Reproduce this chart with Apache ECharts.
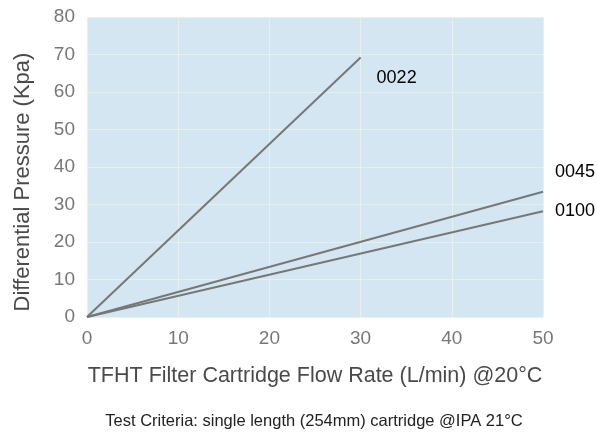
<!DOCTYPE html>
<html><head><meta charset="utf-8">
<script src="https://cdn.jsdelivr.net/npm/echarts@6/dist/echarts.min.js"></script>
<style>html,body{margin:0;padding:0;background:#fff}#c{width:597px;height:436px}</style>
</head><body><div id="c"></div>
<script>
const seriesNames = ['0022', '0045', '0100'];
const flow0022 = [[0, 0], [30, 69.2]];
const flow0045 = [[0, 0], [50, 33.4]];
const flow0100 = [[0, 0], [50, 28.2]];
const xTicks = [0, 10, 20, 30, 40, 50];
const yTicks = [0, 10, 20, 30, 40, 50, 60, 70, 80];
const xTitle = 'TFHT Filter Cartridge Flow Rate (L/min) @20°C';
const yTitle = 'Differential Pressure (Kpa)';
const footnote = 'Test Criteria: single length (254mm) cartridge @IPA 21°C';

const chart = echarts.init(document.getElementById('c'));
const font = 'Liberation Sans, Helvetica, Arial, sans-serif';
const labelOffsets = [[8, 21], [4, -20], [4, 0]];
const datas = [flow0022, flow0045, flow0100];
chart.setOption({
  animation: false,
  grid: {left: 87, top: 17, width: 456, height: 300, show: true, backgroundColor: '#d4e6f1', borderWidth: 0},
  xAxis: {
    type: 'value', min: xTicks[0], max: xTicks[xTicks.length - 1], interval: 10,
    axisLine: {show: false}, axisTick: {show: false},
    splitLine: {show: true, lineStyle: {color: '#e6f1ea', width: 1}},
    axisLabel: {color: '#777', fontSize: 19, fontFamily: font, margin: 12},
    name: xTitle, nameLocation: 'middle', nameGap: 48,
    nameTextStyle: {color: '#4a4a4a', fontSize: 21.5, fontFamily: font}
  },
  yAxis: {
    type: 'value', min: yTicks[0], max: yTicks[yTicks.length - 1], interval: 10,
    axisLine: {show: false}, axisTick: {show: false},
    splitLine: {show: true, lineStyle: {color: '#e6f1ea', width: 1}},
    axisLabel: {color: '#777', fontSize: 19, fontFamily: font, margin: 12}
  },
  graphic: [
    {type: 'text', x: 23, y: 182, rotation: Math.PI / 2,
     style: {text: yTitle, fill: '#4a4a4a', font: '22px ' + font, textAlign: 'center', textVerticalAlign: 'middle'}},
    {type: 'text', x: 314, y: 421,
     style: {text: footnote, fill: '#222', font: '16.5px ' + font, textAlign: 'center', textVerticalAlign: 'middle'}}
  ],
  series: seriesNames.map((n, i) => ({
    type: 'line', name: n, data: datas[i], showSymbol: false, symbol: 'none',
    lineStyle: {color: '#777', width: 2},
    endLabel: {show: true, formatter: n, offset: labelOffsets[i], color: '#000', fontSize: 18, fontFamily: font}
  }))
});
</script></body></html>
